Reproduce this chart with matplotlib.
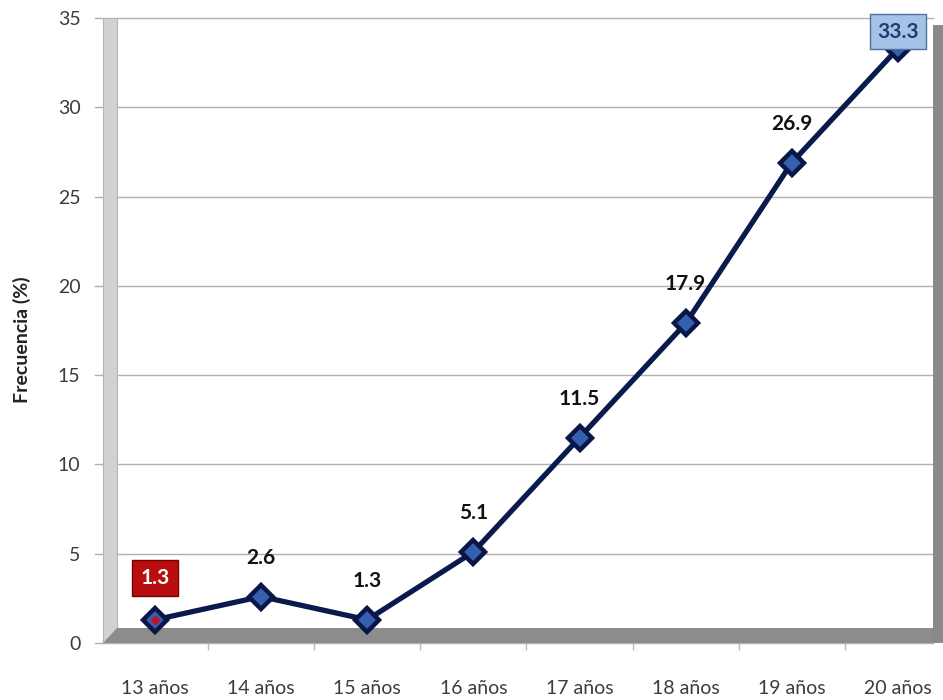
import matplotlib.pyplot as plt
from matplotlib.patches import Rectangle, Polygon
import numpy as np

plt.rcParams['font.family'] = ['Lato', 'DejaVu Sans']

categorias = ['13 años', '14 años', '15 años', '16 años',
              '17 años', '18 años', '19 años', '20 años']
frecuencia = [1.3, 2.6, 1.3, 5.1, 11.5, 17.9, 26.9, 33.3]
y_ticks = [0, 5, 10, 15, 20, 25, 30, 35]

W, H = 943, 700
fig = plt.figure(figsize=(W / 100, H / 100), dpi=100)

# axes frame in pixels: x 100..943, y 18..643
L, R, T, B = 100, 943, 18, 643
ax = fig.add_axes([L / W, (H - B) / H, (R - L) / W, (B - T) / H])

def fx(px):
    return (px - L) / (R - L)

def fy(py):
    return (B - py) / (B - T)

step = 106.14
x = np.arange(len(categorias))
ax.set_xlim((L - 155) / step, (R - 155) / step)
ax.set_ylim(0, 35)

for s in ax.spines.values():
    s.set_visible(False)

# gridlines
for v in y_ticks:
    ax.plot([fx(95), fx(933)], [v / 35, v / 35], transform=ax.transAxes,
            color='#b0b0b0', lw=1.0, clip_on=False, zorder=1)

# left wall
ax.add_patch(Rectangle((fx(103), 0), fx(117) - fx(103), 1, transform=ax.transAxes,
                       facecolor='#d2d2d2', edgecolor='#b4b4b4', lw=0.8, zorder=2))
# floor
ax.add_patch(Polygon([(fx(103), 0), (fx(935), 0), (fx(935), fy(628)), (fx(117), fy(628))],
                     closed=True, transform=ax.transAxes,
                     facecolor='#8c8c8c', edgecolor='none', zorder=3))
# right edge
ax.add_patch(Rectangle((fx(933), 0), fx(943) - fx(933), fy(25), transform=ax.transAxes,
                       facecolor='#8a8a8a', edgecolor='none', zorder=3))

# line and markers
ax.plot(x, frecuencia, color='#0b1a4c', lw=3.8, zorder=5)
ax.plot(x, frecuencia, linestyle='none', marker='D', markersize=12,
        markerfacecolor='#3560ad', markeredgecolor='#0a1746', markeredgewidth=3.2, zorder=6)
ax.plot(x[0], frecuencia[0], linestyle='none', marker='D', markersize=5,
        markerfacecolor='#c0102a', markeredgecolor='none', zorder=7)

# data labels
for i, v in enumerate(frecuencia):
    if i == 0:
        ax.annotate(f'{v}', (x[i], v), xytext=(0, 30), textcoords='offset points',
                    ha='center', va='center', fontsize=15, fontweight='bold', color='white',
                    bbox=dict(boxstyle='square,pad=0.4', facecolor='#b80e10',
                              edgecolor='#7a0000', lw=1), zorder=8)
    elif i == len(frecuencia) - 1:
        ax.annotate(f'{v}', (x[i], v), xytext=(0, 12), textcoords='offset points',
                    ha='center', va='center', fontsize=15, fontweight='bold', color='#1f3b70',
                    bbox=dict(boxstyle='square,pad=0.35', facecolor='#a3c4e6',
                              edgecolor='#4f6f9f', lw=1), zorder=8)
    else:
        ax.annotate(f'{v}', (x[i], v), xytext=(0, 28), textcoords='offset points',
                    ha='center', va='center', fontsize=15, fontweight='bold', color='#111111',
                    zorder=8)

ax.set_yticks(y_ticks)
ax.set_yticklabels([str(t) for t in y_ticks])
ax.set_xticks(x)
ax.set_xticklabels(categorias)
ax.set_xticks(x[:-1] + 0.5, minor=True)
ax.tick_params(axis='y', length=0, pad=14, labelsize=14, labelcolor='#3c3c3c')
ax.tick_params(axis='x', which='major', length=0, pad=27, labelsize=14, labelcolor='#3c3c3c')
ax.tick_params(axis='x', which='minor', length=5, width=1, color='#b8b8b8', direction='out')

ax.set_ylabel('Frecuencia (%)', fontsize=14, fontweight='bold', color='#222222')
ax.yaxis.set_label_coords(fx(31), fy(340))

fig.savefig('out.png', dpi=100)
